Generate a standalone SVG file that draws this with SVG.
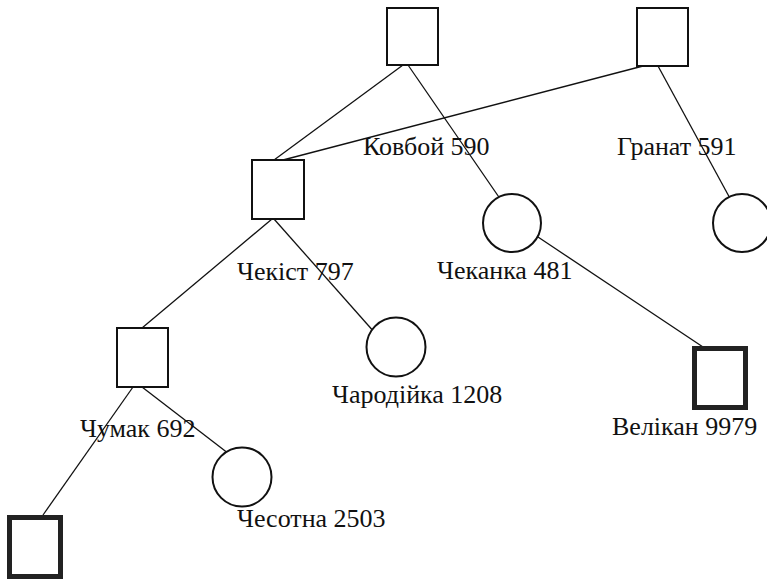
<svg xmlns="http://www.w3.org/2000/svg" width="767" height="580" viewBox="0 0 767 580">
<style>
.sq{fill:#fff;stroke:#111;stroke-width:2}
.thick{fill:#fff;stroke:#222;stroke-width:5}
.ci{fill:#fff;stroke:#111;stroke-width:2}
.ln{stroke:#111;stroke-width:1.3;fill:none}
text{font-family:"Liberation Serif","DejaVu Serif",serif;font-size:26px;fill:#111}
</style>
<rect width="767" height="580" fill="#fff"/>
<g id="connectors">
<line class="ln" x1="403" y1="65" x2="274" y2="160"/>
<line class="ln" x1="408" y1="65" x2="503" y2="203"/>
<line class="ln" x1="643" y1="66" x2="283" y2="160"/>
<line class="ln" x1="658" y1="66" x2="732" y2="202"/>
<line class="ln" x1="272" y1="219" x2="142" y2="328"/>
<line class="ln" x1="274" y1="219" x2="375" y2="333"/>
<line class="ln" x1="538" y1="237" x2="703" y2="347"/>
<line class="ln" x1="133" y1="387" x2="43" y2="515"/>
<line class="ln" x1="142" y1="387" x2="233" y2="457"/>
</g>
<g id="kovboi"><rect class="sq" x="387" y="8" width="51" height="57"/><text x="363" y="155">Ковбой 590</text></g>
<g id="granat"><rect class="sq" x="637" y="8" width="51" height="58"/><text x="617" y="155">Гранат 591</text></g>
<g id="chekist"><rect class="sq" x="252" y="160" width="52" height="59"/><text x="237" y="280">Чекіст 797</text></g>
<g id="chekanka"><circle class="ci" cx="512" cy="223" r="29"/><text x="437" y="279">Чеканка 481</text></g>
<g id="granat-daughter"><circle class="ci" cx="742" cy="223" r="29"/></g>
<g id="charodiika"><circle class="ci" cx="396" cy="347" r="29.5"/><text x="332" y="403">Чародійка 1208</text></g>
<g id="velikan"><rect class="thick" x="694.5" y="348.5" width="51" height="59"/><text x="612" y="435">Велікан 9979</text></g>
<g id="chumak"><rect class="sq" x="117" y="328" width="51" height="59"/><text x="80" y="437">Чумак 692</text></g>
<g id="chesotna"><circle class="ci" cx="242" cy="477" r="29.5"/><text x="237" y="527">Чесотна 2503</text></g>
<g id="bottom-son"><rect class="thick" x="9.5" y="517.5" width="51" height="59"/></g>
</svg>
